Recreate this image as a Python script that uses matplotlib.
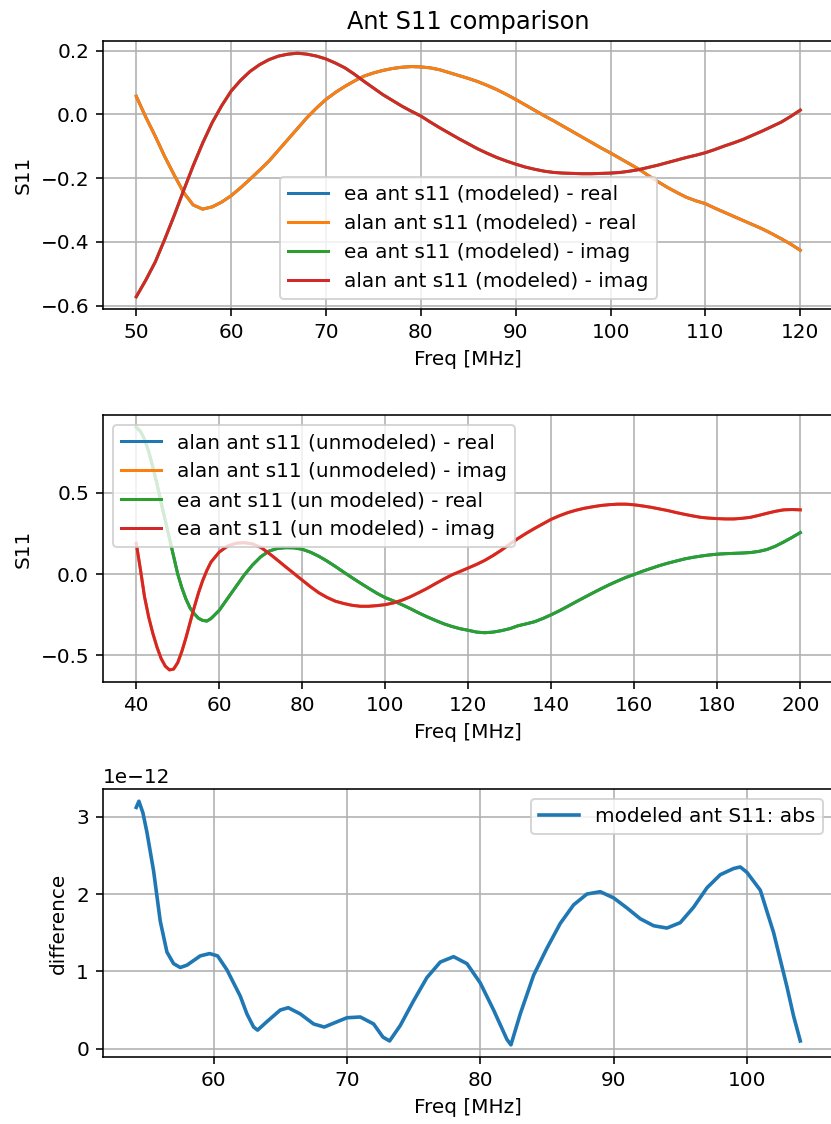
#!/usr/bin/env python3

import numpy as np
import matplotlib
matplotlib.use("Agg")
import matplotlib.pyplot as plt

# modeled antenna S11, 50-120 MHz (ea and alan overlap exactly)
freq_mod = list(range(50, 121))
alan_real_mod = [
    0.057, -0.008, -0.068, -0.132, -0.19, -0.245, -0.284, -0.297, -0.29, -0.275,
    -0.255, -0.23, -0.203, -0.175, -0.146, -0.112, -0.078, -0.044, -0.01, 0.02,
    0.047, 0.069, 0.088, 0.105, 0.12, 0.13, 0.138, 0.144, 0.148, 0.15,
    0.149, 0.146, 0.14, 0.131, 0.122, 0.113, 0.103, 0.091, 0.078, 0.063,
    0.047, 0.03, 0.013, -0.004, -0.02, -0.037, -0.054, -0.071, -0.088, -0.105,
    -0.121, -0.138, -0.155, -0.172, -0.192, -0.211, -0.229, -0.245, -0.26, -0.271,
    -0.28, -0.294, -0.307, -0.32, -0.333, -0.346, -0.359, -0.374, -0.39, -0.407,
    -0.426,
]
alan_imag_mod = [
    -0.572, -0.52, -0.463, -0.392, -0.317, -0.238, -0.161, -0.09, -0.026, 0.027,
    0.073, 0.107, 0.135, 0.156, 0.172, 0.183, 0.189, 0.192, 0.189, 0.183,
    0.174, 0.161, 0.146, 0.126, 0.104, 0.083, 0.062, 0.044, 0.026, 0.01,
    -0.005, -0.024, -0.042, -0.059, -0.076, -0.092, -0.108, -0.122, -0.135, -0.146,
    -0.156, -0.165, -0.172, -0.178, -0.182, -0.184, -0.185, -0.186, -0.186, -0.185,
    -0.184, -0.182, -0.178, -0.173, -0.166, -0.159, -0.151, -0.143, -0.135, -0.128,
    -0.12, -0.11, -0.099, -0.089, -0.078, -0.065, -0.052, -0.038, -0.024, -0.006,
    0.0135,
]
ea_real_mod = alan_real_mod
ea_imag_mod = alan_imag_mod

# unmodeled antenna S11, 40-200 MHz (alan hidden under ea)
freq_unmod = list(range(40, 58)) + list(range(58, 201, 2))
ea_real_unmod = [
    0.905, 0.88, 0.83, 0.755, 0.66, 0.555, 0.44, 0.33, 0.22, 0.11,
    0.0, -0.085, -0.155, -0.21, -0.245, -0.272, -0.285, -0.289,
    -0.274,
    -0.223, -0.15, -0.078, -0.006, 0.056, 0.107, 0.142, 0.158, 0.163, 0.162,
    0.153, 0.135, 0.11, 0.08, 0.047, 0.012, -0.022, -0.055, -0.087, -0.118,
    -0.145, -0.165, -0.188, -0.212, -0.238, -0.262, -0.284, -0.305, -0.322, -0.336,
    -0.346, -0.357, -0.361, -0.357, -0.348, -0.336, -0.318, -0.306, -0.293, -0.273,
    -0.25, -0.225, -0.198, -0.17, -0.143, -0.116, -0.09, -0.065, -0.042, -0.02,
    -0.002, 0.018, 0.035, 0.052, 0.067, 0.08, 0.093, 0.103, 0.111, 0.118,
    0.123, 0.126, 0.128, 0.13, 0.133, 0.14, 0.152, 0.172, 0.198, 0.226,
    0.256,
]
ea_imag_unmod = [
    0.19, 0.03, -0.14, -0.265, -0.365, -0.45, -0.52, -0.567, -0.59, -0.585,
    -0.545, -0.475, -0.39, -0.295, -0.202, -0.115, -0.04, 0.022,
    0.074,
    0.136, 0.173, 0.19, 0.194, 0.186, 0.165, 0.128, 0.087, 0.045, 0.004,
    -0.037, -0.078, -0.115, -0.144, -0.167, -0.181, -0.192, -0.198, -0.198, -0.194,
    -0.188, -0.177, -0.161, -0.14, -0.115, -0.089, -0.06, -0.032, -0.005, 0.016,
    0.038, 0.06, 0.085, 0.115, 0.148, 0.185, 0.22, 0.252, 0.282, 0.31,
    0.338, 0.36, 0.379, 0.394, 0.406, 0.415, 0.423, 0.428, 0.431, 0.431,
    0.427, 0.42, 0.412, 0.402, 0.392, 0.38, 0.369, 0.359, 0.35, 0.345,
    0.342, 0.34, 0.34, 0.344, 0.35, 0.362, 0.375, 0.387, 0.396, 0.398,
    0.396,
]
alan_real_unmod = ea_real_unmod
alan_imag_unmod = ea_imag_unmod

# |difference| of modeled S11, in units of 1e-12
freq_diff = [
    54.2, 54.4, 54.7, 55.0, 55.5, 56.0, 56.5, 57.0, 57.5, 58.0,
    59.0, 59.7, 60.3, 61.0, 62.0, 62.5, 63.0, 63.3, 64.0, 65.0,
    65.6, 66.5, 67.5, 68.3, 69.0, 70.0, 71.0, 72.0, 72.7, 73.2,
    74.0, 75.0, 76.0, 77.0, 78.0, 79.0, 80.0, 81.0, 82.0, 82.3,
    83.0, 84.0, 85.0, 86.0, 87.0, 88.0, 89.0, 90.0, 91.0, 92.0,
    93.0, 94.0, 95.0, 96.0, 97.0, 98.0, 99.0, 99.5, 100.0, 101.0,
    102.0, 103.0, 103.5, 104.0,
]
diff_abs = [
    3.12, 3.2, 3.05, 2.8, 2.3, 1.65, 1.25, 1.1, 1.05, 1.08,
    1.2, 1.23, 1.2, 1.02, 0.68, 0.45, 0.28, 0.24, 0.35, 0.5,
    0.53, 0.45, 0.32, 0.28, 0.33, 0.4, 0.41, 0.32, 0.15, 0.1,
    0.3, 0.62, 0.92, 1.12, 1.19, 1.1, 0.85, 0.5, 0.12, 0.05,
    0.45, 0.95, 1.3, 1.62, 1.86, 2.0, 2.03, 1.95, 1.82, 1.68,
    1.59, 1.56, 1.63, 1.83, 2.08, 2.25, 2.33, 2.35, 2.28, 2.05,
    1.5, 0.8, 0.42, 0.1,
]


def main():
    dpi = 144
    fig = plt.figure(figsize=(831 / dpi, 1124 / dpi), dpi=dpi)
    left, width = 0.124, 0.879
    ax1 = fig.add_axes([left, 0.7251, width, 0.2384])
    ax2 = fig.add_axes([left, 0.3932, width, 0.2375])
    ax3 = fig.add_axes([left, 0.0596, width, 0.2384])

    ax1.plot(freq_mod, ea_real_mod, label="ea ant s11 (modeled) - real")
    ax1.plot(freq_mod, alan_real_mod, label="alan ant s11 (modeled) - real")
    ax1.plot(freq_mod, ea_imag_mod, label="ea ant s11 (modeled) - imag")
    ax1.plot(freq_mod, alan_imag_mod, label="alan ant s11 (modeled) - imag")
    ax1.set_title("Ant S11 comparison")
    ax1.set_xlabel("Freq [MHz]")
    ax1.set_ylabel("S11")
    ax1.legend(loc="lower center")
    ax1.grid()

    ax2.plot(freq_unmod, alan_real_unmod, label="alan ant s11 (unmodeled) - real")
    ax2.plot(freq_unmod, alan_imag_unmod, label="alan ant s11 (unmodeled) - imag")
    ax2.plot(freq_unmod, ea_real_unmod, label="ea ant s11 (un modeled) - real")
    ax2.plot(freq_unmod, ea_imag_unmod, label="ea ant s11 (un modeled) - imag")
    ax2.set_xlabel("Freq [MHz]")
    ax2.set_ylabel("S11")
    ax2.legend(loc="upper left")
    ax2.grid()

    ax3.plot(freq_diff, np.array(diff_abs) * 1e-12, lw=1.8,
             label="modeled ant S11: abs")
    ax3.set_xlabel("Freq [MHz]")
    ax3.set_ylabel("difference")
    ax3.legend(loc="upper right")
    ax3.grid()

    fig.savefig("out.png", dpi=dpi)


if __name__ == "__main__":
    main()
